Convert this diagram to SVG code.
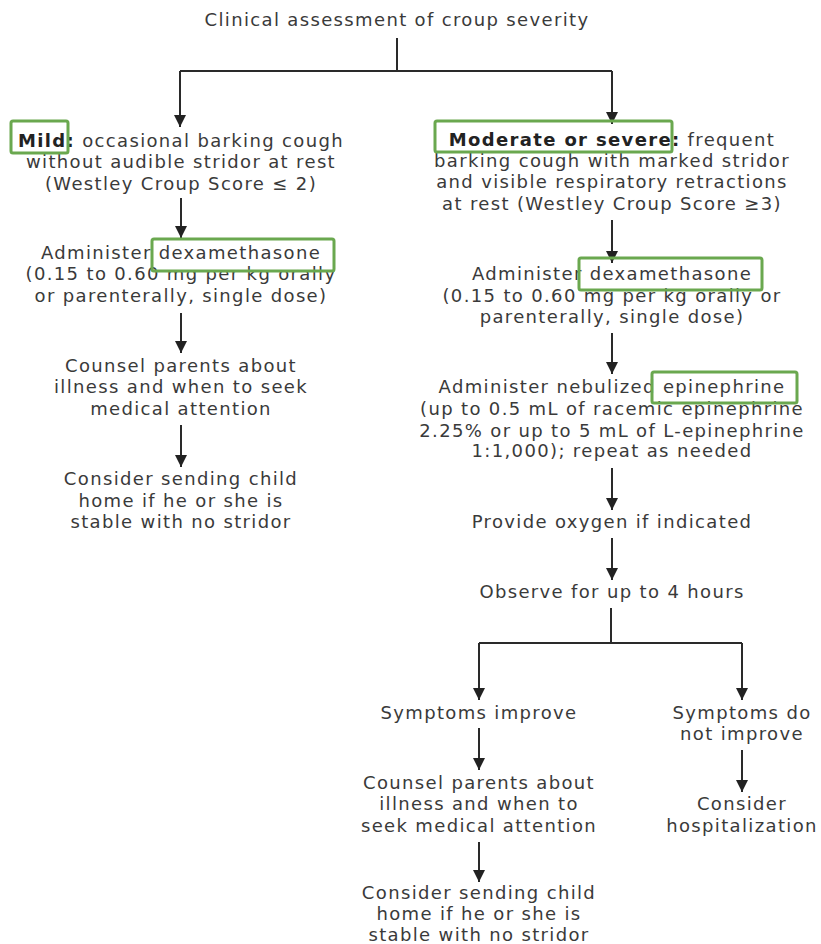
<svg xmlns="http://www.w3.org/2000/svg" width="821" height="944" viewBox="0 0 821 944">
<style>
text{font-family:"DejaVu Sans","Noto Sans",sans-serif;font-size:18px;fill:#3a3a3a;text-anchor:middle;letter-spacing:1.35px}
.b{font-weight:bold;fill:#222}
.c{stroke:#2a2a2a;stroke-width:2;fill:none}
.hl{fill:none;stroke:#6aa84f;stroke-width:3;rx:2}
</style>
<defs>
<marker id="ah" viewBox="0 0 12 12" refX="12" refY="6" markerWidth="12" markerHeight="12" markerUnits="userSpaceOnUse" orient="auto">
<path d="M0,0 L12,6 L0,12 Z" fill="#222"/>
</marker>
</defs>
<g id="connectors">
<path class="c" d="M397,38 V71"/>
<path class="c" d="M180,71 H612"/>
<path class="c" d="M180,71 V127" marker-end="url(#ah)"/>
<path class="c" d="M612,71 V124" marker-end="url(#ah)"/>
<path class="c" d="M181,198 V238" marker-end="url(#ah)"/>
<path class="c" d="M181,313 V353" marker-end="url(#ah)"/>
<path class="c" d="M181,425 V467" marker-end="url(#ah)"/>
<path class="c" d="M612,220 V263" marker-end="url(#ah)"/>
<path class="c" d="M612,333 V374" marker-end="url(#ah)"/>
<path class="c" d="M612,468 V510" marker-end="url(#ah)"/>
<path class="c" d="M612,538 V580" marker-end="url(#ah)"/>
<path class="c" d="M611,608 V643"/>
<path class="c" d="M479,643 H742"/>
<path class="c" d="M479,643 V700" marker-end="url(#ah)"/>
<path class="c" d="M742,643 V700" marker-end="url(#ah)"/>
<path class="c" d="M479,728 V770" marker-end="url(#ah)"/>
<path class="c" d="M479,842 V882" marker-end="url(#ah)"/>
<path class="c" d="M742,750 V792" marker-end="url(#ah)"/>
</g>
<g id="n-title"><text x="397" y="26">Clinical assessment of croup severity</text></g>
<g id="n-mild">
<text x="181" y="147"><tspan class="b">Mild:</tspan> occasional barking cough</text>
<text x="181" y="168">without audible stridor at rest</text>
<text x="181" y="190">(Westley Croup Score ≤ 2)</text>
<rect class="hl" x="11" y="121" width="57" height="32"/>
</g>
<g id="n-dexa-left">
<text x="181" y="259">Administer dexamethasone</text>
<text x="181" y="280">(0.15 to 0.60 mg per kg orally</text>
<text x="181" y="302">or parenterally, single dose)</text>
<rect class="hl" x="152" y="239" width="182" height="32"/>
</g>
<g id="n-counsel-left">
<text x="181" y="372">Counsel parents about</text>
<text x="181" y="393">illness and when to seek</text>
<text x="181" y="415">medical attention</text>
</g>
<g id="n-home-left">
<text x="181" y="485">Consider sending child</text>
<text x="181" y="507">home if he or she is</text>
<text x="181" y="528">stable with no stridor</text>
</g>
<g id="n-severe">
<text x="612" y="146"><tspan class="b">Moderate or severe:</tspan> frequent</text>
<text x="612" y="167">barking cough with marked stridor</text>
<text x="612" y="188">and visible respiratory retractions</text>
<text x="612" y="210">at rest (Westley Croup Score ≥3)</text>
<rect class="hl" x="435" y="121" width="237" height="31"/>
</g>
<g id="n-dexa-right">
<text x="612" y="280">Administer dexamethasone</text>
<text x="612" y="302">(0.15 to 0.60 mg per kg orally or</text>
<text x="612" y="323">parenterally, single dose)</text>
<rect class="hl" x="579" y="258" width="183" height="32"/>
</g>
<g id="n-epi">
<text x="612" y="393">Administer nebulized epinephrine</text>
<text x="612" y="415">(up to 0.5 mL of racemic epinephrine</text>
<text x="612" y="437">2.25% or up to 5 mL of L-epinephrine</text>
<text x="612" y="457">1:1,000); repeat as needed</text>
<rect class="hl" x="652" y="372" width="145" height="31"/>
</g>
<g id="n-oxygen"><text x="612" y="528">Provide oxygen if indicated</text></g>
<g id="n-observe"><text x="612" y="598">Observe for up to 4 hours</text></g>
<g id="n-improve"><text x="479" y="719">Symptoms improve</text></g>
<g id="n-counsel-right">
<text x="479" y="789">Counsel parents about</text>
<text x="479" y="810">illness and when to</text>
<text x="479" y="832">seek medical attention</text>
</g>
<g id="n-home-right">
<text x="479" y="899">Consider sending child</text>
<text x="479" y="920">home if he or she is</text>
<text x="479" y="941">stable with no stridor</text>
</g>
<g id="n-noimprove">
<text x="742" y="719">Symptoms do</text>
<text x="742" y="740">not improve</text>
</g>
<g id="n-hosp">
<text x="742" y="810">Consider</text>
<text x="742" y="832">hospitalization</text>
</g>
</svg>
